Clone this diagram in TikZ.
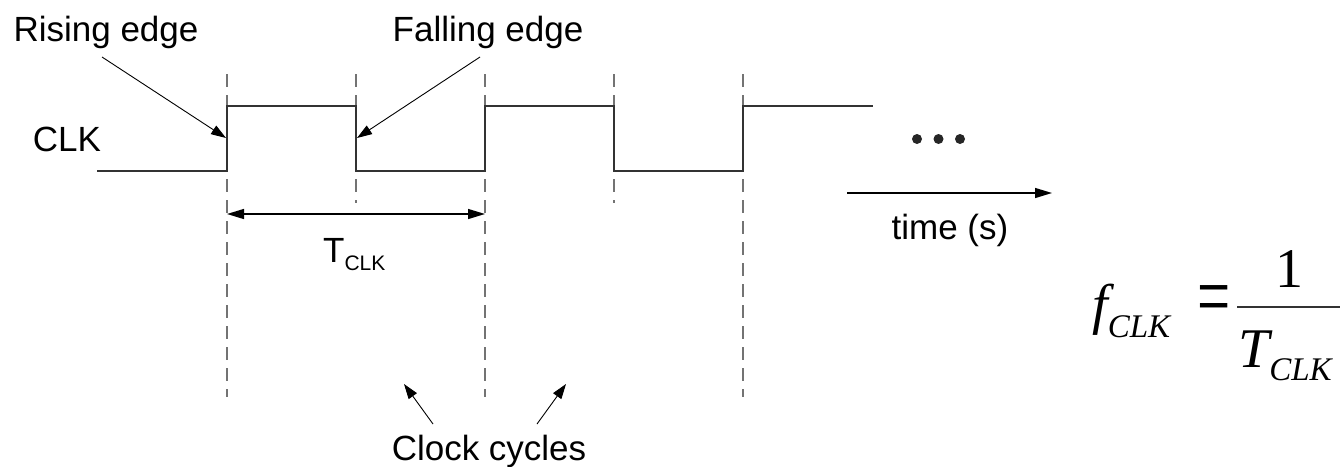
\documentclass[tikz,border=0pt]{standalone}
\usepackage{fontspec}
\setmainfont{Liberation Sans}
\newfontfamily\eqfont{Liberation Serif}
\usetikzlibrary{arrows.meta}
\begin{document}
\begin{tikzpicture}[x=1pt,y=-1pt,
  lbl/.style={inner sep=0pt, anchor=base, font=\fontsize{35}{42}\selectfont},
  eqtxt/.style={inner sep=0pt, font=\eqfont\fontsize{56}{60}\selectfont},
  wave/.style={line width=1.5pt, draw=black!80},
  guide/.style={line width=1.4pt, draw=black!55, dash pattern=on 13pt off 8pt},
  pointer/.style={line width=0.9pt, -{Triangle[length=15pt,width=10pt]}},
  axisarrow/.style={line width=1.3pt, -{Triangle[length=17pt,width=10pt]}},
  span/.style={line width=1.3pt, {Triangle[length=17pt,width=10pt]}-{Triangle[length=17pt,width=10pt]}},
  dot/.style={circle, fill=black!85, inner sep=0pt, minimum size=10pt}
]
\useasboundingbox (0,0) rectangle (1340,466);

% guide lines (dashed)
\foreach \x/\yb in {227/397, 356/203, 485/397, 614/203, 743/397}
  \draw[guide] (\x,74) -- (\x,\yb);

% clock waveform
\draw[wave] (97,171) -- (227,171) -- (227,106) -- (356,106) -- (356,171)
  -- (485,171) -- (485,106) -- (614,106) -- (614,171) -- (743,171)
  -- (743,106) -- (873,106);

% labels
\node[lbl] (rising) at (106,41) {Rising edge};
\node[lbl] (falling) at (488,41) {Falling edge};
\node[lbl] (clk) at (67,151) {CLK};
\node[lbl, anchor=base west] (tclk) at (323,262) {T\raisebox{-8pt}{\fontsize{21}{21}\selectfont CLK}};
\node[lbl] (timelbl) at (950,239) {time (s)};
\node[lbl] (cycles) at (489,460) {Clock cycles};

% edge pointers
\coordinate (rtail) at (102,57);
\coordinate (rtip) at (226,138);
\coordinate (ftail) at (480,57);
\coordinate (ftip) at (357,138);
\draw[pointer] (rtail) -- (rtip);
\draw[pointer] (ftail) -- (ftip);

% clock cycle pointers
\coordinate (c1tail) at (433,424);
\coordinate (c1tip) at (404,384);
\coordinate (c2tail) at (537,424);
\coordinate (c2tip) at (566,384);
\draw[pointer] (c1tail) -- (c1tip);
\draw[pointer] (c2tail) -- (c2tip);

% period span
\coordinate (pl) at (227,214);
\coordinate (pr) at (485,214);
\draw[span] (pl) -- (pr);

% time axis
\coordinate (ta) at (847,193);
\coordinate (tb) at (1052,193);
\draw[axisarrow] (ta) -- (tb);

% ellipsis dots
\node[dot] (d1) at (917,139) {};
\node[dot] (d2) at (938.5,139) {};
\node[dot] (d3) at (960,139) {};

% formula
\node[eqtxt, anchor=base west] (fsym) at (1092,323) {\itshape f\raisebox{-14pt}{\fontsize{33}{33}\selectfont CLK}};
\node[eqtxt, anchor=center] (eq) at (1214,306) {\scalebox{1.05}[1.6]{=}};
\node[eqtxt, anchor=base] (one) at (1289,287) {1};
\node[eqtxt, anchor=base west] (den) at (1238,367) {\itshape T\raisebox{-13pt}{\fontsize{33}{33}\selectfont CLK}};
\draw[line width=1.6pt, draw=black!80] (1237,307) -- (1345,307);
\end{tikzpicture}
\end{document}
